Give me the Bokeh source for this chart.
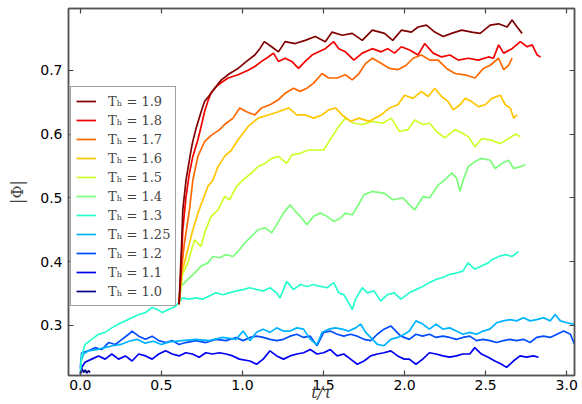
from bokeh.plotting import figure
from bokeh.models import (Range1d, LinearAxis, FixedTicker, Legend, LegendItem, Label,
                          NumeralTickFormatter, CustomLabelingPolicy)
from bokeh.embed import file_html
from bokeh.resources import INLINE

# ---- data (t in units of 1e7, |Phi|) ----
t10 = [0.0, 0.01, 0.02, 0.03, 0.04, 0.05, 0.06]
p10 = [0.224, 0.232, 0.226, 0.230, 0.225, 0.229, 0.226]

t11 = [0.0, 0.008, 0.029, 0.070, 0.112, 0.153, 0.194, 0.236, 0.278, 0.319, 0.360, 0.402, 0.443, 0.484, 0.526, 0.567,
       0.609, 0.650, 0.691, 0.733, 0.774, 0.816, 0.857, 0.899, 0.940, 0.981, 1.046, 1.087, 1.128, 1.170, 1.211, 1.253,
       1.294, 1.335, 1.377, 1.418, 1.460, 1.501, 1.542, 1.584, 1.625, 1.667, 1.708, 1.750, 1.791, 1.832, 1.873, 1.915,
       1.957, 1.998, 2.029, 2.070, 2.112, 2.153, 2.194, 2.236, 2.278, 2.319, 2.360, 2.402, 2.433, 2.474, 2.516, 2.557,
       2.598, 2.629, 2.671, 2.712, 2.753, 2.795, 2.826]
p11 = [0.224, 0.234, 0.242, 0.247, 0.252, 0.247, 0.255, 0.247, 0.252, 0.244, 0.255, 0.252, 0.247, 0.255, 0.260, 0.255,
       0.252, 0.257, 0.255, 0.250, 0.257, 0.255, 0.257, 0.255, 0.252, 0.247, 0.244, 0.239, 0.247, 0.260, 0.252, 0.247,
       0.252, 0.255, 0.257, 0.262, 0.255, 0.257, 0.262, 0.252, 0.255, 0.247, 0.239, 0.244, 0.252, 0.255, 0.257, 0.260,
       0.252, 0.247, 0.247, 0.239, 0.247, 0.257, 0.255, 0.252, 0.250, 0.252, 0.255, 0.255, 0.265, 0.255, 0.250, 0.244,
       0.239, 0.234, 0.244, 0.252, 0.250, 0.252, 0.250]

t12 = [0.0, 0.008, 0.050, 0.091, 0.132, 0.174, 0.216, 0.257, 0.298, 0.319, 0.360, 0.402, 0.443, 0.484, 0.526, 0.567,
       0.609, 0.650, 0.712, 0.774, 0.837, 0.899, 0.961, 1.004, 1.046, 1.087, 1.128, 1.170, 1.211, 1.253, 1.294, 1.335,
       1.377, 1.418, 1.460, 1.501, 1.542, 1.584, 1.625, 1.667, 1.708, 1.750, 1.791, 1.832, 1.873, 1.915, 1.946, 1.977,
       2.029, 2.070, 2.112, 2.153, 2.194, 2.236, 2.278, 2.319, 2.360, 2.402, 2.443, 2.484, 2.526, 2.567, 2.609, 2.650,
       2.691, 2.733, 2.774, 2.815, 2.857, 2.898, 2.940, 2.981, 3.023, 3.043, 3.064]
p12 = [0.232, 0.257, 0.260, 0.265, 0.262, 0.273, 0.270, 0.278, 0.286, 0.291, 0.283, 0.278, 0.283, 0.276, 0.273, 0.276,
       0.270, 0.273, 0.276, 0.273, 0.278, 0.276, 0.281, 0.276, 0.281, 0.283, 0.281, 0.278, 0.276, 0.278, 0.283, 0.286,
       0.281, 0.283, 0.268, 0.289, 0.291, 0.286, 0.283, 0.286, 0.283, 0.278, 0.276, 0.286, 0.294, 0.299, 0.291, 0.283,
       0.278, 0.286, 0.283, 0.286, 0.281, 0.283, 0.281, 0.278, 0.281, 0.283, 0.276, 0.278, 0.276, 0.273, 0.276, 0.278,
       0.276, 0.278, 0.273, 0.281, 0.283, 0.281, 0.286, 0.291, 0.286, 0.273, 0.265]

t125 = [0.0, 0.02, 0.05, 0.10, 0.15, 0.20, 0.25, 0.30, 0.35, 0.40, 0.45, 0.50, 0.55, 0.629, 0.712, 0.795, 0.878, 0.961,
        1.004, 1.046, 1.087, 1.128, 1.170, 1.211, 1.253, 1.294, 1.335, 1.377, 1.418, 1.460, 1.491, 1.532, 1.573, 1.615,
        1.656, 1.698, 1.729, 1.760, 1.791, 1.832, 1.873, 1.915, 1.957, 1.998, 2.029, 2.070, 2.112, 2.153, 2.194, 2.236,
        2.278, 2.319, 2.360, 2.402, 2.443, 2.484, 2.526, 2.567, 2.609, 2.650, 2.691, 2.733, 2.774, 2.815, 2.857, 2.898,
        2.929, 2.961, 3.002, 3.043, 3.064]
p125 = [0.240, 0.255, 0.260, 0.262, 0.265, 0.268, 0.270, 0.275, 0.278, 0.272, 0.275, 0.270, 0.274, 0.276, 0.278, 0.276,
        0.281, 0.278, 0.291, 0.276, 0.289, 0.294, 0.289, 0.296, 0.291, 0.291, 0.296, 0.294, 0.278, 0.270, 0.289, 0.294,
        0.296, 0.294, 0.291, 0.296, 0.302, 0.289, 0.281, 0.270, 0.268, 0.278, 0.281, 0.286, 0.291, 0.307, 0.302, 0.294,
        0.302, 0.294, 0.296, 0.291, 0.286, 0.289, 0.286, 0.291, 0.294, 0.304, 0.307, 0.309, 0.307, 0.312, 0.307, 0.309,
        0.312, 0.307, 0.317, 0.307, 0.304, 0.302, 0.299]

t13 = [0.0, 0.008, 0.029, 0.070, 0.112, 0.153, 0.194, 0.236, 0.278, 0.319, 0.360, 0.402, 0.443, 0.474, 0.505, 0.547,
       0.588, 0.629, 0.671, 0.712, 0.753, 0.795, 0.837, 0.878, 0.919, 0.961, 1.004, 1.046, 1.087, 1.128, 1.170, 1.211,
       1.232, 1.273, 1.315, 1.356, 1.398, 1.439, 1.480, 1.522, 1.563, 1.594, 1.625, 1.656, 1.677, 1.698, 1.739, 1.770,
       1.812, 1.853, 1.894, 1.936, 1.977, 2.029, 2.070, 2.112, 2.153, 2.194, 2.236, 2.278, 2.319, 2.360, 2.391, 2.433,
       2.474, 2.516, 2.538, 2.580, 2.621, 2.663, 2.704]
p13 = [0.226, 0.252, 0.270, 0.278, 0.286, 0.289, 0.296, 0.302, 0.307, 0.312, 0.317, 0.320, 0.328, 0.325, 0.320, 0.325,
       0.330, 0.343, 0.341, 0.343, 0.341, 0.346, 0.351, 0.348, 0.351, 0.354, 0.356, 0.359, 0.356, 0.354, 0.359, 0.351,
       0.343, 0.369, 0.356, 0.364, 0.361, 0.364, 0.361, 0.359, 0.367, 0.351, 0.348, 0.335, 0.325, 0.341, 0.359, 0.351,
       0.354, 0.338, 0.348, 0.351, 0.341, 0.351, 0.356, 0.361, 0.367, 0.372, 0.375, 0.380, 0.382, 0.385, 0.398, 0.388,
       0.393, 0.398, 0.403, 0.408, 0.411, 0.408, 0.416]

t14 = [0.609, 0.621, 0.663, 0.704, 0.745, 0.787, 0.818, 0.859, 0.901, 0.942, 0.983, 1.014, 1.056, 1.097, 1.139, 1.180,
       1.211, 1.253, 1.294, 1.325, 1.356, 1.398, 1.439, 1.480, 1.522, 1.563, 1.604, 1.635, 1.677, 1.708, 1.750, 1.801,
       1.876, 1.927, 1.989, 2.031, 2.062, 2.114, 2.155, 2.207, 2.248, 2.290, 2.321, 2.342, 2.362, 2.393, 2.435, 2.476,
       2.528, 2.559, 2.600, 2.642, 2.673, 2.714, 2.745]
p14 = [0.333, 0.361, 0.372, 0.382, 0.393, 0.398, 0.408, 0.406, 0.411, 0.408, 0.419, 0.429, 0.440, 0.450, 0.453, 0.445,
       0.458, 0.476, 0.489, 0.479, 0.471, 0.458, 0.471, 0.476, 0.471, 0.463, 0.468, 0.476, 0.473, 0.486, 0.505, 0.510,
       0.507, 0.497, 0.500, 0.489, 0.481, 0.502, 0.500, 0.520, 0.528, 0.539, 0.531, 0.510, 0.528, 0.549, 0.557, 0.562,
       0.559, 0.546, 0.554, 0.559, 0.546, 0.549, 0.552]

t15 = [0.609, 0.630, 0.663, 0.704, 0.745, 0.766, 0.807, 0.849, 0.890, 0.921, 0.963, 1.004, 1.056, 1.097, 1.139, 1.180,
       1.222, 1.273, 1.304, 1.356, 1.408, 1.449, 1.501, 1.553, 1.594, 1.635, 1.687, 1.739, 1.801, 1.865, 1.917, 1.969,
       2.021, 2.062, 2.114, 2.155, 2.197, 2.248, 2.311, 2.352, 2.393, 2.435, 2.476, 2.528, 2.590, 2.642, 2.683, 2.714]
p15 = [0.333, 0.380, 0.398, 0.434, 0.424, 0.445, 0.471, 0.481, 0.502, 0.497, 0.518, 0.528, 0.539, 0.549, 0.554, 0.562,
       0.565, 0.554, 0.567, 0.570, 0.575, 0.575, 0.575, 0.596, 0.612, 0.625, 0.617, 0.615, 0.620, 0.617, 0.625, 0.604,
       0.607, 0.622, 0.615, 0.617, 0.604, 0.594, 0.607, 0.602, 0.596, 0.580, 0.593, 0.591, 0.585, 0.593, 0.600, 0.596]

t16 = [0.609, 0.621, 0.652, 0.694, 0.725, 0.756, 0.787, 0.818, 0.849, 0.890, 0.932, 0.973, 1.035, 1.097, 1.159, 1.222,
       1.284, 1.335, 1.387, 1.439, 1.491, 1.532, 1.573, 1.615, 1.667, 1.719, 1.781, 1.855, 1.907, 1.958, 2.000, 2.052,
       2.104, 2.145, 2.186, 2.228, 2.269, 2.300, 2.342, 2.373, 2.414, 2.455, 2.497, 2.538, 2.590, 2.621, 2.652, 2.673,
       2.694]
p16 = [0.333, 0.377, 0.408, 0.450, 0.476, 0.497, 0.518, 0.528, 0.549, 0.565, 0.575, 0.591, 0.612, 0.625, 0.630, 0.635,
       0.641, 0.630, 0.630, 0.625, 0.630, 0.638, 0.641, 0.630, 0.620, 0.625, 0.620, 0.630, 0.641, 0.646, 0.661, 0.656,
       0.667, 0.659, 0.672, 0.659, 0.651, 0.638, 0.646, 0.656, 0.651, 0.643, 0.646, 0.656, 0.661, 0.646, 0.641, 0.625,
       0.630]

t17 = [0.609, 0.625, 0.642, 0.673, 0.694, 0.725, 0.766, 0.807, 0.859, 0.890, 0.942, 0.983, 1.025, 1.076, 1.118, 1.170,
       1.222, 1.263, 1.315, 1.356, 1.398, 1.439, 1.491, 1.532, 1.584, 1.635, 1.677, 1.719, 1.760, 1.801, 1.855, 1.907,
       1.958, 2.010, 2.052, 2.104, 2.155, 2.207, 2.259, 2.311, 2.373, 2.435, 2.486, 2.528, 2.580, 2.611, 2.642, 2.663]
p17 = [0.333, 0.390, 0.429, 0.481, 0.528, 0.565, 0.588, 0.598, 0.607, 0.615, 0.625, 0.641, 0.635, 0.630, 0.641, 0.646,
       0.654, 0.664, 0.672, 0.667, 0.672, 0.680, 0.695, 0.688, 0.688, 0.693, 0.685, 0.695, 0.711, 0.719, 0.711, 0.703,
       0.701, 0.708, 0.719, 0.724, 0.716, 0.716, 0.703, 0.695, 0.693, 0.688, 0.703, 0.708, 0.719, 0.701, 0.708, 0.719]

t18 = [0.609, 0.620, 0.632, 0.652, 0.673, 0.694, 0.725, 0.745, 0.766, 0.787, 0.807, 0.849, 0.911, 0.973, 1.035, 1.076,
       1.118, 1.159, 1.191, 1.222, 1.263, 1.304, 1.346, 1.387, 1.429, 1.470, 1.511, 1.563, 1.594, 1.635, 1.687, 1.739,
       1.801, 1.855, 1.896, 1.938, 1.980, 2.031, 2.083, 2.124, 2.176, 2.228, 2.280, 2.331, 2.393, 2.455, 2.517, 2.548,
       2.580, 2.611, 2.663, 2.714, 2.756, 2.787, 2.818, 2.839]
p18 = [0.333, 0.380, 0.450, 0.502, 0.539, 0.565, 0.591, 0.612, 0.635, 0.652, 0.665, 0.677, 0.688, 0.693, 0.700, 0.706,
       0.714, 0.721, 0.727, 0.714, 0.719, 0.714, 0.703, 0.714, 0.724, 0.729, 0.734, 0.745, 0.734, 0.729, 0.716, 0.727,
       0.734, 0.729, 0.734, 0.727, 0.737, 0.732, 0.724, 0.742, 0.727, 0.721, 0.724, 0.716, 0.719, 0.716, 0.721, 0.719,
       0.740, 0.727, 0.734, 0.745, 0.737, 0.740, 0.724, 0.721]

t19 = [0.609, 0.615, 0.625, 0.632, 0.652, 0.683, 0.694, 0.714, 0.745, 0.766, 0.797, 0.828, 0.870, 0.921, 0.973, 1.025,
       1.076, 1.107, 1.135, 1.180, 1.222, 1.263, 1.325, 1.387, 1.449, 1.511, 1.553, 1.615, 1.677, 1.739, 1.801, 1.876,
       1.927, 1.980, 2.042, 2.083, 2.135, 2.186, 2.238, 2.290, 2.352, 2.414, 2.466, 2.528, 2.580, 2.632, 2.663, 2.694,
       2.725]
p19 = [0.333, 0.370, 0.430, 0.481, 0.528, 0.575, 0.589, 0.609, 0.635, 0.651, 0.661, 0.672, 0.685, 0.695, 0.703, 0.714,
       0.724, 0.734, 0.745, 0.737, 0.729, 0.745, 0.742, 0.747, 0.753, 0.745, 0.760, 0.755, 0.758, 0.747, 0.763, 0.758,
       0.747, 0.763, 0.760, 0.768, 0.771, 0.760, 0.753, 0.758, 0.763, 0.760, 0.758, 0.771, 0.773, 0.768, 0.779, 0.768,
       0.758]

th_labels = ["1.0", "1.1", "1.2", "1.25", "1.3", "1.4", "1.5", "1.6", "1.7", "1.8", "1.9"]
series_t = [t10, t11, t12, t125, t13, t14, t15, t16, t17, t18, t19]
series_p = [p10, p11, p12, p125, p13, p14, p15, p16, p17, p18, p19]
colors = ["#000080", "#0000f3", "#004cff", "#00b3ff", "#29ffce", "#7bff7b",
          "#ceff29", "#ffc600", "#ff6800", "#f30000", "#800000"]

x_ticks = [0.0, 0.5, 1.0, 1.5, 2.0, 2.5, 3.0]
y_ticks = [0.3, 0.4, 0.5, 0.6, 0.7]
x_lo, x_hi = -0.073, 3.048
y_lo, y_hi = 0.2213, 0.797

# ---- figure ----
p = figure(width=582, height=404, output_backend="svg", toolbar_location=None,
           x_range=Range1d(x_lo, x_hi), y_range=Range1d(y_lo, y_hi),
           min_border_left=68, min_border_right=8, min_border_top=8, min_border_bottom=28)
p.grid.visible = False
p.outline_line_color = "#555555"
p.outline_line_width = 1.5
p.background_fill_color = "white"
p.border_fill_color = "white"

no_labels = CustomLabelingPolicy(
    code="const a = Array.from(indices); for (const i of a) indices.unset(i); return indices")

def style_axis(ax, show_labels=True):
    ax.major_tick_in = 5
    ax.major_tick_out = 0
    ax.minor_tick_line_color = None
    ax.major_tick_line_color = "#444444"
    ax.major_tick_line_width = 1.2
    ax.axis_line_color = "#555555"
    ax.axis_line_width = 1.5
    ax.major_label_text_font = "DejaVu Sans"
    ax.major_label_text_color = "black"
    if show_labels:
        ax.major_label_text_font_size = "14px"
    else:
        ax.major_label_policy = no_labels
        ax.major_label_text_font_size = "0px"
        ax.major_label_standoff = 0

xa = p.xaxis[0]
ya = p.yaxis[0]
xa.ticker = FixedTicker(ticks=x_ticks)
ya.ticker = FixedTicker(ticks=y_ticks)
xa.formatter = NumeralTickFormatter(format="0.0")
ya.formatter = NumeralTickFormatter(format="0.0")
style_axis(xa)
style_axis(ya)
xa.major_label_standoff = 4
ya.major_label_standoff = 6
xa.axis_label = "t/τ"
xa.axis_label_text_font = "DejaVu Serif"
xa.axis_label_text_font_style = "italic"
xa.axis_label_text_font_size = "16px"
xa.axis_label_standoff = -10
ya.axis_label = "|Φ|"
ya.axis_label_text_font = "DejaVu Serif"
ya.axis_label_text_font_style = "normal"
ya.axis_label_text_font_size = "16px"
ya.axis_label_standoff = 10

ra = LinearAxis(ticker=FixedTicker(ticks=y_ticks))
style_axis(ra, show_labels=False)
p.add_layout(ra, "right")
ta = LinearAxis(ticker=FixedTicker(ticks=x_ticks))
style_axis(ta, show_labels=False)
p.add_layout(ta, "above")

renderers = []
for t, ph, c in zip(series_t, series_p, colors):
    n = min(len(t), len(ph))
    r = p.line(t[:n], ph[:n], line_color=c, line_width=1.7)
    renderers.append(r)

items = [LegendItem(label="Tₕ = " + lab, renderers=[r])
         for lab, r in reversed(list(zip(th_labels, renderers)))]
legend = Legend(items=items, location=(2, 69), margin=0, padding=5, spacing=1,
                glyph_width=20, glyph_height=18, label_height=18, label_standoff=12,
                label_text_font="DejaVu Serif", label_text_font_size="13px",
                border_line_color="#444444", border_line_width=1.5,
                background_fill_color="white", background_fill_alpha=1.0)
p.add_layout(legend, "center")

# axis offset text "1e7" under the right end of the x axis, below the "3.0" tick label
p.add_layout(Label(x=x_hi, y=y_lo - 18 * (y_hi - y_lo) / 368, text="1e7",
                   text_font="DejaVu Sans", text_font_size="10px", text_baseline="top",
                   text_align="right", text_color="black"))

open("out.html", "w").write(file_html(p, INLINE))
